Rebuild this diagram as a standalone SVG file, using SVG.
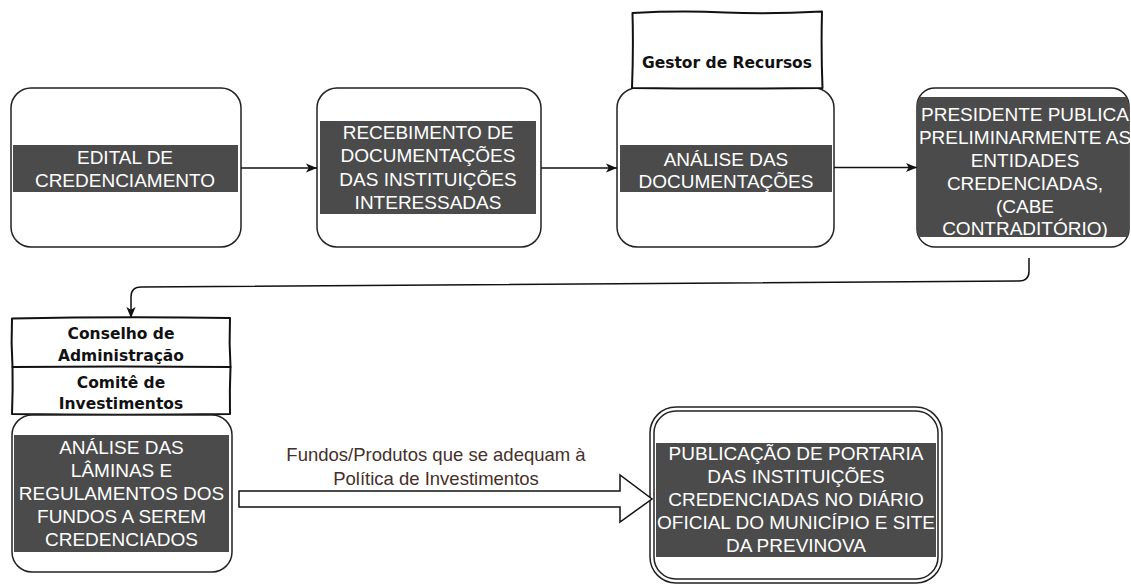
<svg xmlns="http://www.w3.org/2000/svg" width="1131" height="584" viewBox="0 0 1131 584">
<style>
.box{fill:#fff;stroke:#222;stroke-width:1.5}
.band{fill:#4b4b4b}
.t{font-family:"Liberation Sans",Arial,sans-serif;font-size:19px;fill:#fff;text-anchor:middle}
.sk{fill:#fff;stroke:#111;stroke-width:2;stroke-linejoin:round}
.c{font-family:"DejaVu Sans","Liberation Sans",sans-serif;font-weight:bold;font-size:15.5px;fill:#111;text-anchor:middle}
.lbl{font-family:"Liberation Sans",Arial,sans-serif;font-size:18.5px;fill:#45302a;text-anchor:middle}
.edge{fill:none;stroke:#111;stroke-width:1.5}
</style>
<defs>
<marker id="arr" viewBox="0 0 10 10" refX="10" refY="5" markerWidth="11" markerHeight="11" markerUnits="userSpaceOnUse" orient="auto">
<path d="M0,0.8 L10,5 L0,9.2 L2.5,5 Z" fill="#111"/>
</marker>
<clipPath id="clip4"><rect x="917" y="88" width="212" height="159" rx="18"/></clipPath>
</defs>

<g id="edital">
<rect class="box" x="11" y="88" width="230" height="159" rx="20"/>
<rect class="band" x="13" y="145" width="225" height="47"/>
<text class="t" x="125" y="164">EDITAL DE</text>
<text class="t" x="125" y="187">CREDENCIAMENTO</text>
</g>

<g id="recebimento">
<rect class="box" x="317" y="88" width="224" height="159" rx="20"/>
<rect class="band" x="320" y="121" width="216" height="93"/>
<text class="t" x="428" y="138.5">RECEBIMENTO DE</text>
<text class="t" x="428" y="162">DOCUMENTAÇÕES</text>
<text class="t" x="428" y="185.5">DAS INSTITUIÇÕES</text>
<text class="t" x="428" y="209">INTERESSADAS</text>
</g>

<g id="analise-doc">
<rect class="box" x="617" y="88" width="217" height="159" rx="20"/>
<rect class="band" x="620" y="145" width="212" height="47"/>
<text class="t" x="726" y="165.5">ANÁLISE DAS</text>
<text class="t" x="726" y="188">DOCUMENTAÇÕES</text>
</g>

<g id="gestor">
<path class="sk" d="M632.5,13 Q680,10.5 725,12.5 T822,11.5 Q821,50 822.5,88 Q727,89 632,88 Q633.5,50 632.5,13 Z"/>
<text class="c" x="727" y="68">Gestor de Recursos</text>
</g>

<g id="presidente">
<rect class="box" x="917" y="88" width="212" height="159" rx="18"/>
<rect class="band" x="917" y="97" width="212" height="140" clip-path="url(#clip4)"/>
<text class="t" x="1025" y="121">PRESIDENTE PUBLICA</text>
<text class="t" x="1025" y="144">PRELIMINARMENTE AS</text>
<text class="t" x="1025" y="167">ENTIDADES</text>
<text class="t" x="1025" y="190">CREDENCIADAS,</text>
<text class="t" x="1025" y="212.5">(CABE</text>
<text class="t" x="1025" y="235">CONTRADITÓRIO)</text>
</g>

<g id="conselho">
<path class="sk" d="M12,318.5 Q120,316.5 230,318 Q229,343 230.5,367 Q120,368 12.5,367 Q11,343 12,318.5 Z"/>
<text class="c" x="121" y="339">Conselho de</text>
<text class="c" x="121" y="361">Administração</text>
</g>

<g id="comite">
<path class="sk" d="M12.5,367 Q120,366 230.5,367 Q229.5,390 230,414 Q121,415.5 12,414 Q13,390 12.5,367 Z"/>
<text class="c" x="121" y="388">Comitê de</text>
<text class="c" x="121" y="409">Investimentos</text>
</g>

<g id="analise-laminas">
<rect class="box" x="12" y="415" width="220" height="157" rx="20"/>
<rect class="band" x="14" y="435" width="215" height="117"/>
<text class="t" x="121.5" y="454">ANÁLISE DAS</text>
<text class="t" x="121.5" y="477">LÂMINAS E</text>
<text class="t" x="121.5" y="500">REGULAMENTOS DOS</text>
<text class="t" x="121.5" y="523">FUNDOS A SEREM</text>
<text class="t" x="121.5" y="546">CREDENCIADOS</text>
</g>

<g id="publicacao">
<rect class="box" x="650" y="407" width="292" height="176" rx="26"/>
<rect class="box" x="654" y="411" width="284" height="168" rx="22"/>
<rect class="band" x="656" y="443" width="280" height="114"/>
<text class="t" x="796" y="460">PUBLICAÇÃO DE PORTARIA</text>
<text class="t" x="796" y="483">DAS INSTITUIÇÕES</text>
<text class="t" x="796" y="506">CREDENCIADAS NO DIÁRIO</text>
<text class="t" x="796" y="529">OFICIAL DO MUNICÍPIO E SITE</text>
<text class="t" x="796" y="552">DA PREVINOVA</text>
</g>

<g id="connectors">
<line class="edge" x1="241" y1="168" x2="317" y2="168" marker-end="url(#arr)"/>
<line class="edge" x1="541" y1="168" x2="617" y2="168" marker-end="url(#arr)"/>
<line class="edge" x1="834" y1="167.5" x2="917" y2="167.5" marker-end="url(#arr)"/>
<path class="edge" d="M1029,258 L1029,271 Q1029,281 1019,281 L141,287 Q131,287 131,297 L131,318" marker-end="url(#arr)"/>
<polygon points="239,491 620,491 620,475 652,499 620,522 620,507 239,507" fill="#fff" stroke="#111" stroke-width="1.5" stroke-linejoin="miter"/>
<text class="lbl" x="436" y="461">Fundos/Produtos que se adequam à</text>
<text class="lbl" x="436" y="485">Política de Investimentos</text>
</g>
</svg>
